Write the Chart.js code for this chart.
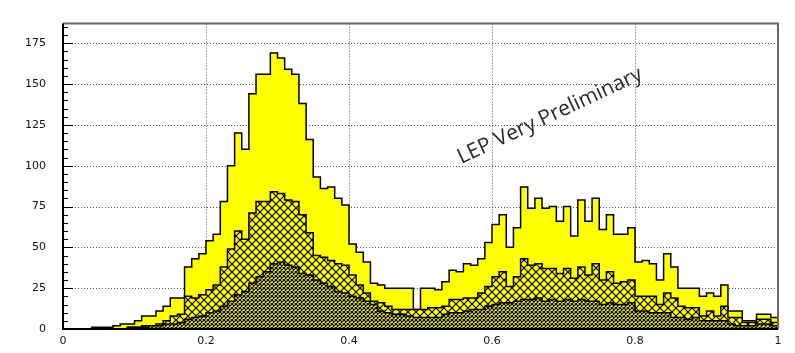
<!DOCTYPE html>
<html>
<head>
<meta charset="utf-8">
<script src="https://cdn.jsdelivr.net/npm/chart.js@4/dist/chart.umd.min.js"></script>
<style>
  html, body { margin: 0; padding: 0; background: #ffffff; }
  #wrap { width: 795px; height: 353px; }
</style>
</head>
<body>
<div id="wrap"><canvas id="c" width="795" height="353"></canvas></div>
<script>
// Histogram contents, 100 bins of width 0.01 on [0, 1]
const binWidth = 0.01;

// all candidates (yellow)
const totalCounts = [
  0, 0, 0, 0, 1, 1, 1, 2, 3, 3,
  5, 8, 8, 11, 14, 19, 19, 38, 43, 46,
  54, 58, 78, 100, 120, 110, 144, 156, 156, 169,
  166, 159, 156, 138, 116, 93, 86, 87, 80, 76,
  52, 47, 41, 28, 27, 25, 25, 25, 25, 12,
  25, 25, 24, 29, 36, 35, 40, 39, 43, 53,
  64, 70, 50, 62, 87, 74, 80, 74, 75, 66,
  75, 57, 79, 66, 80, 61, 70, 58, 58, 62,
  41, 42, 40, 30, 46, 38, 25, 25, 25, 20,
  22, 20, 27, 11, 11, 5, 5, 9, 9, 7
];

// first selection (wide cross-hatch)
const selCounts = [
  0, 0, 0, 0, 0, 0, 0, 0, 0, 1,
  1, 2, 2, 3, 5, 8, 9, 20, 19, 21,
  24, 27, 38, 49, 60, 55, 71, 78, 78, 84,
  83, 79, 78, 70, 59, 45, 44, 42, 40, 39,
  33, 27, 22, 17, 16, 14, 12, 12, 12, 12,
  12, 13, 13, 14, 18, 18, 19, 19, 22, 26,
  32, 35, 26, 32, 43, 39, 40, 37, 37, 34,
  37, 31, 38, 33, 40, 30, 35, 28, 29, 30,
  20, 20, 20, 15, 22, 19, 14, 13, 13, 8,
  11, 8, 14, 7, 7, 4, 4, 6, 6, 4
];

// tight selection (dense cross-hatch)
const tightCounts = [
  0, 0, 0, 0, 0, 0, 0, 0, 0, 1,
  1, 1, 2, 2, 3, 3, 4, 6, 7, 8,
  10, 11, 14, 17, 21, 23, 28, 32, 35, 40,
  41, 39, 38, 34, 33, 30, 28, 26, 23, 22,
  20, 19, 17, 15, 11, 10, 9, 9, 8, 7,
  7, 7, 7, 9, 10, 10, 11, 12, 12, 14,
  15, 16, 16, 17, 18, 18, 19, 17, 18, 17,
  18, 17, 18, 17, 17, 15, 16, 15, 15, 16,
  11, 11, 10, 10, 10, 7, 7, 6, 7, 5,
  5, 5, 5, 3, 2, 2, 2, 3, 3, 2
];

const xTickValues = [0, 0.2, 0.4, 0.6, 0.8, 1];
const xTickLabels = ['0', '0.2', '0.4', '0.6', '0.8', '1'];
const yTickValues = [0, 25, 50, 75, 100, 125, 150, 175];
const yTickLabels = ['0', '25', '50', '75', '100', '125', '150', '175'];
const yMinorStep = 5;
const yMax = 187;
const watermark = 'LEP Very Preliminary';

// step outline points: one point per bin lower edge, closing at the upper edge
function stepPoints(counts) {
  const pts = counts.map((v, i) => ({ x: i * binWidth, y: v }));
  pts.push({ x: counts.length * binWidth, y: 0 });
  return pts;
}

// diagonal cross-hatch fill on yellow
function hatch(size, lineWidth) {
  const cv = document.createElement('canvas');
  cv.width = size; cv.height = size;
  const g = cv.getContext('2d');
  g.fillStyle = '#ffff00';
  g.fillRect(0, 0, size, size);
  g.strokeStyle = '#000000';
  g.lineWidth = lineWidth;
  g.beginPath();
  g.moveTo(-1, -1); g.lineTo(size + 1, size + 1);
  g.moveTo(size + 1, -1); g.lineTo(-1, size + 1);
  g.stroke();
  return g.createPattern(cv, 'repeat');
}

const FONT = "'DejaVu Sans', sans-serif";

const gridPlugin = {
  id: 'dottedGrid',
  beforeDatasetsDraw(chart) {
    const { ctx, chartArea: a, scales: { x, y } } = chart;
    ctx.save();
    ctx.strokeStyle = '#555555';
    ctx.lineWidth = 1;
    ctx.setLineDash([1, 2]);
    xTickValues.slice(1, -1).forEach(v => {
      const px = Math.round(x.getPixelForValue(v)) + 0.5;
      ctx.beginPath(); ctx.moveTo(px, a.top); ctx.lineTo(px, a.bottom); ctx.stroke();
    });
    yTickValues.slice(1).forEach(v => {
      const py = Math.round(y.getPixelForValue(v)) + 0.5;
      ctx.beginPath(); ctx.moveTo(a.left, py); ctx.lineTo(a.right, py); ctx.stroke();
    });
    ctx.restore();
  }
};

const framePlugin = {
  id: 'frame',
  afterDatasetsDraw(chart) {
    const { ctx, chartArea: a, scales: { y } } = chart;
    ctx.save();
    // minor and major ticks on the vertical axis
    ctx.strokeStyle = '#000000';
    ctx.lineWidth = 1;
    for (let v = 0; v <= yMax; v += yMinorStep) {
      const py = Math.round(y.getPixelForValue(v)) + 0.5;
      const len = (v % 25 === 0) ? 10 : 5;
      ctx.beginPath(); ctx.moveTo(a.left, py); ctx.lineTo(a.left + len, py); ctx.stroke();
    }
    // frame
    ctx.strokeStyle = '#666666';
    ctx.lineWidth = 2;
    ctx.beginPath();
    ctx.moveTo(a.left, a.top); ctx.lineTo(a.right, a.top); ctx.lineTo(a.right, a.bottom);
    ctx.stroke();
    ctx.strokeStyle = '#000000';
    ctx.lineWidth = 2;
    ctx.beginPath();
    ctx.moveTo(a.left, a.top); ctx.lineTo(a.left, a.bottom); ctx.lineTo(a.right, a.bottom);
    ctx.stroke();
    ctx.restore();
  },
  afterDraw(chart) {
    const { ctx } = chart;
    ctx.save();
    ctx.translate(550, 116);
    ctx.rotate(-25 * Math.PI / 180);
    ctx.fillStyle = '#2a2a2a';
    ctx.font = "21px 'Open Sans', sans-serif";
    ctx.textAlign = 'center';
    ctx.textBaseline = 'middle';
    ctx.fillText(watermark, 0, 0);
    ctx.restore();
  }
};

const ctx = document.getElementById('c').getContext('2d');

new Chart(ctx, {
  type: 'line',
  data: {
    datasets: [
      {
        label: 'tight',
        data: stepPoints(tightCounts),
        stepped: true,
        fill: 'origin',
        backgroundColor: hatch(4, 1.2),
        borderColor: '#000000',
        borderWidth: 1.5,
        pointRadius: 0,
        order: 1
      },
      {
        label: 'selected',
        data: stepPoints(selCounts),
        stepped: true,
        fill: 'origin',
        backgroundColor: hatch(8, 1.2),
        borderColor: '#000000',
        borderWidth: 1.5,
        pointRadius: 0,
        order: 2
      },
      {
        label: 'all',
        data: stepPoints(totalCounts),
        stepped: true,
        fill: 'origin',
        backgroundColor: '#ffff00',
        borderColor: '#000000',
        borderWidth: 1.5,
        pointRadius: 0,
        order: 3
      }
    ]
  },
  options: {
    responsive: false,
    animation: false,
    events: [],
    layout: { padding: { top: 4, right: 17, left: 0, bottom: 0 } },
    plugins: { legend: { display: false }, tooltip: { enabled: false } },
    scales: {
      x: {
        type: 'linear',
        min: 0,
        max: 1,
        afterBuildTicks: s => { s.ticks = xTickValues.map(v => ({ value: v })); },
        afterFit: s => { s.height = 24; },
        grid: { display: false, drawTicks: false },
        border: { display: false },
        ticks: {
          autoSkip: false,
          maxRotation: 0,
          padding: 6,
          color: '#111122',
          font: { family: FONT, size: 11 },
          callback: (v, i) => xTickLabels[i]
        }
      },
      y: {
        type: 'linear',
        min: 0,
        max: yMax,
        afterBuildTicks: s => { s.ticks = yTickValues.map(v => ({ value: v })); },
        afterFit: s => { s.width = 63; },
        grid: { display: false, drawTicks: false },
        border: { display: false },
        ticks: {
          padding: 17,
          color: '#111122',
          font: { family: FONT, size: 11 },
          callback: (v, i) => yTickLabels[i]
        }
      }
    }
  },
  plugins: [gridPlugin, framePlugin]
});
</script>
</body>
</html>
